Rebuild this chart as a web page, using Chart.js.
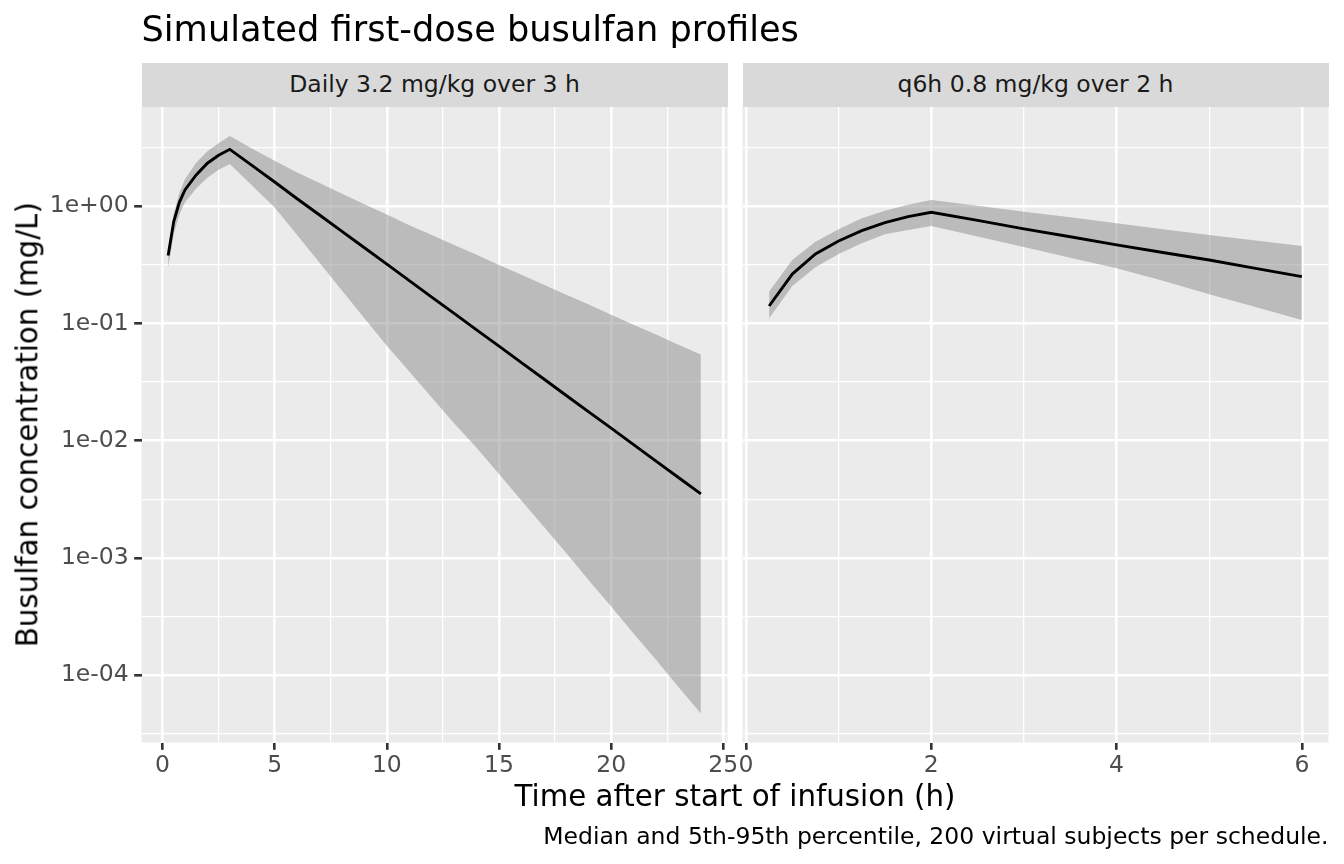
<!DOCTYPE html>
<html>
<head>
<meta charset="utf-8">
<script src="https://cdn.jsdelivr.net/npm/chart.js@4/dist/chart.umd.min.js"></script>
<style>
  html, body { margin: 0; padding: 0; background: #ffffff; }
  #wrap { position: relative; width: 1344px; height: 864px; overflow: hidden; font-family: "DejaVu Sans", sans-serif; }
  canvas { position: absolute; left: 0; top: 0; }
  .txt { position: absolute; white-space: nowrap; line-height: 1; }
  .strip { position: absolute; background: #d9d9d9; color: #1a1a1a; font-size: 23.5px; line-height: 1;
           display: flex; align-items: center; justify-content: center; }
</style>
</head>
<body>
<div id="wrap">
  <canvas id="cLeft" width="1344" height="864"></canvas>
  <canvas id="cRight" width="1344" height="864"></canvas>
  <div class="txt" id="title" style="left:141.5px; top:10.5px; font-size:35.2px; color:#000;"></div>
  <div class="strip" id="strip0" style="left:141.5px; top:62.5px; width:586px; height:44px;"></div>
  <div class="strip" id="strip1" style="left:742.5px; top:62.5px; width:586px; height:44px;"></div>
  <div class="txt" id="xtitle" style="left:141.5px; width:1187px; text-align:center; top:781.5px; font-size:29.3px; color:#000;"></div>
  <div class="txt" id="ytitle" style="left:-272px; width:600px; text-align:center; top:410px; font-size:29.3px; color:#000; transform: rotate(-90deg); transform-origin: 300px 14.65px;"></div>
  <div class="txt" id="caption" style="right:15.5px; top:824.5px; font-size:23.5px; color:#000;"></div>
</div>
<script>
// ---------------- data ----------------
const chartTitle = "Simulated first-dose busulfan profiles";
const panelTitles = ["Daily 3.2 mg/kg over 3 h", "q6h 0.8 mg/kg over 2 h"];
const xAxisTitle = "Time after start of infusion (h)";
const yAxisTitle = "Busulfan concentration (mg/L)";
const captionText = "Median and 5th-95th percentile, 200 virtual subjects per schedule.";

// Panel 1: daily dosing
const leftTime   = [0.25, 0.5, 0.75, 1, 1.5, 2, 2.5, 3, 4, 5, 6, 7, 8, 9, 10, 11, 12, 13, 14, 15, 16, 17, 18, 19, 20, 21, 22, 23, 24];
const leftMedian = [0.38, 0.74, 1.08, 1.38, 1.85, 2.33, 2.72, 3.06, 2.22, 1.61, 1.16, 0.843, 0.611, 0.443, 0.321, 0.232, 0.168, 0.122, 0.0883, 0.064, 0.0463, 0.0336, 0.0243, 0.0176, 0.0128, 0.00925, 0.0067, 0.00485, 0.00352];
const leftP95    = [0.41, 0.86, 1.30, 1.70, 2.35, 2.95, 3.45, 3.98, 3.10, 2.45, 1.94, 1.58, 1.28, 1.04, 0.85, 0.69, 0.569, 0.468, 0.385, 0.316, 0.26, 0.214, 0.176, 0.145, 0.119, 0.0977, 0.0804, 0.066, 0.0543];
const leftP05    = [0.30, 0.58, 0.85, 1.08, 1.42, 1.75, 2.05, 2.30, 1.50, 0.977, 0.568, 0.330, 0.191, 0.111, 0.0646, 0.0389, 0.0234, 0.0141, 0.0087, 0.00519, 0.00309, 0.00184, 0.0011, 0.000646, 0.000384, 0.000226, 0.000135, 0.000079, 0.000047];

// Panel 2: q6h dosing
const rightTime   = [0.25, 0.5, 0.75, 1, 1.25, 1.5, 1.75, 2, 2.5, 3, 3.5, 4, 4.5, 5, 5.5, 6];
const rightMedian = [0.141, 0.264, 0.392, 0.506, 0.62, 0.724, 0.815, 0.889, 0.757, 0.641, 0.55, 0.468, 0.403, 0.348, 0.295, 0.251];
const rightP95    = [0.187, 0.348, 0.499, 0.637, 0.79, 0.917, 1.03, 1.13, 1.01, 0.90, 0.805, 0.716, 0.638, 0.569, 0.51, 0.458];
const rightP05    = [0.111, 0.209, 0.302, 0.392, 0.483, 0.577, 0.628, 0.679, 0.552, 0.449, 0.363, 0.296, 0.232, 0.178, 0.138, 0.107];

// tick positions
const leftXTicksMajor  = [0, 5, 10, 15, 20, 25];
const leftXTicksMinor  = [2.5, 7.5, 12.5, 17.5, 22.5];
const rightXTicksMajor = [0, 2, 4, 6];
const rightXTicksMinor = [1, 3, 5];
const yTickExponents   = [-4, -3, -2, -1, 0];
const yMinorExponents  = [-4.5, -3.5, -2.5, -1.5, -0.5, 0.5];

// ---------------- text ----------------
document.getElementById('title').textContent = chartTitle;
document.getElementById('strip0').textContent = panelTitles[0];
document.getElementById('strip1').textContent = panelTitles[1];
document.getElementById('xtitle').textContent = xAxisTitle;
document.getElementById('ytitle').textContent = yAxisTitle;
document.getElementById('caption').textContent = captionText;

// ---------------- styling helpers ----------------
const FONT = "'DejaVu Sans', sans-serif";
const PANEL_BG = '#ebebeb';
const BAND = 'rgba(140,140,140,0.5)';
const MAJOR_W = 2.6, MINOR_W = 1.3;
const Y_MIN = Math.pow(10, -4.575), Y_MAX = Math.pow(10, 0.847);

function isInt(e) { return Math.abs(e - Math.round(e)) < 1e-6; }
function sciLabel(v) {
  const e = Math.round(Math.log10(v));
  const s = e < 0 ? '-' : '+';
  const a = Math.abs(e);
  return '1e' + s + (a < 10 ? '0' + a : '' + a);
}

const panelBg = {
  id: 'panelBg',
  beforeDraw(chart) {
    const a = chart.chartArea, c = chart.ctx;
    c.save(); c.fillStyle = PANEL_BG;
    c.fillRect(a.left, a.top, a.right - a.left, a.bottom - a.top);
    c.restore();
  }
};

function pts(xs, ys) { return xs.map((x, i) => ({ x: x, y: ys[i] })); }

function makeChart(canvasId, xs, med, lo, hi, xMin, xMax, majors, minors, showY, padLeft, padRight) {
  const majorSet = new Set(majors);
  return new Chart(document.getElementById(canvasId), {
    type: 'line',
    data: {
      datasets: [
        { label: 'median', data: pts(xs, med), borderColor: '#000000', borderWidth: 2.9,
          pointRadius: 0, tension: 0, fill: false, order: 0 },
        { label: 'p05', data: pts(xs, lo), borderWidth: 0, borderColor: 'rgba(0,0,0,0)',
          pointRadius: 0, tension: 0, fill: false, order: 2 },
        { label: 'p95', data: pts(xs, hi), borderWidth: 0, borderColor: 'rgba(0,0,0,0)',
          backgroundColor: BAND, pointRadius: 0, tension: 0, fill: 1, order: 1 }
      ]
    },
    options: {
      responsive: false,
      animation: false,
      devicePixelRatio: 1,
      layout: { padding: { left: padLeft, right: padRight, top: 107, bottom: 81.5 } },
      plugins: { legend: { display: false }, tooltip: { enabled: false }, title: { display: false } },
      scales: {
        x: {
          type: 'linear', min: xMin, max: xMax,
          afterBuildTicks: (s) => {
            s.ticks = majors.concat(minors).sort((a, b) => a - b).map(v => ({ value: v }));
          },
          afterFit: (s) => { s.height = 40; },
          border: { display: false },
          grid: {
            color: '#ffffff',
            lineWidth: (ctx) => majorSet.has(ctx.tick.value) ? MAJOR_W : MINOR_W,
            tickColor: (ctx) => majorSet.has(ctx.tick.value) ? '#333333' : 'rgba(0,0,0,0)',
            tickWidth: 2.6,
            tickLength: 7.3,
            drawOnChartArea: true
          },
          ticks: {
            autoSkip: false, maxRotation: 0, minRotation: 0, padding: 2,
            color: '#4d4d4d', font: { family: FONT, size: 23.5 },
            callback: (v) => majorSet.has(v) ? String(v) : ''
          }
        },
        y: {
          type: 'logarithmic', min: Y_MIN, max: Y_MAX,
          afterBuildTicks: (s) => {
            s.ticks = yTickExponents.concat(yMinorExponents).sort((a, b) => a - b)
              .map(e => ({ value: Math.pow(10, e) }));
          },
          afterFit: (s) => { s.width = showY ? 141.5 : 0; },
          border: { display: false },
          grid: {
            color: '#ffffff',
            lineWidth: (ctx) => isInt(Math.log10(ctx.tick.value)) ? MAJOR_W : MINOR_W,
            tickColor: (ctx) => (showY && isInt(Math.log10(ctx.tick.value))) ? '#333333' : 'rgba(0,0,0,0)',
            tickWidth: 2.6,
            tickLength: showY ? 7.3 : 0,
            drawTicks: showY
          },
          ticks: {
            display: showY, autoSkip: false, padding: 5.5,
            color: '#4d4d4d', font: { family: FONT, size: 23.5 },
            callback: (v) => isInt(Math.log10(v)) ? sciLabel(v) : ''
          }
        }
      }
    },
    plugins: [panelBg]
  });
}

makeChart('cLeft', leftTime, leftMedian, leftP05, leftP95, -0.9375, 25.1875,
          leftXTicksMajor, leftXTicksMinor, true, 0, 1344 - 727.5);
makeChart('cRight', rightTime, rightMedian, rightP05, rightP95, -0.0375, 6.2875,
          rightXTicksMajor, rightXTicksMinor, false, 742.5, 1344 - 1328.5);
</script>
</body>
</html>
